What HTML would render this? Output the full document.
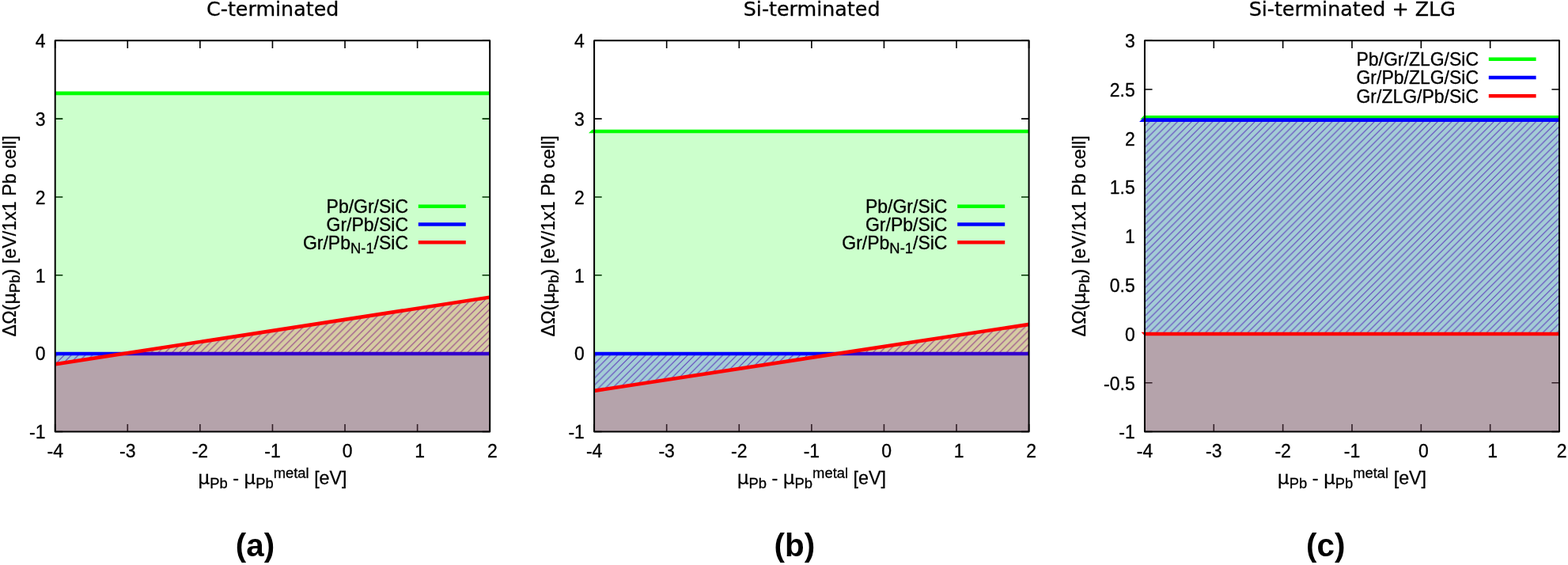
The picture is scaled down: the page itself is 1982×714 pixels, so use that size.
<!DOCTYPE html>
<html lang="en">
<head>
<meta charset="utf-8">
<title>Figure</title>
<style>
html,body{margin:0;padding:0;background:#fff;}
body{width:1982px;height:714px;overflow:hidden;}
svg{display:block;}
svg text{font-family:"Liberation Sans", Arial, Helvetica, sans-serif;font-size:23.0px;fill:#000;stroke:#000;stroke-width:0.3px;stroke-linejoin:round;}
</style>
</head>
<body>
<svg width="1982" height="714" viewBox="0 0 1982 714">
<defs>
<pattern id="hatch1" patternUnits="userSpaceOnUse" x="5.95" y="0" width="8.883" height="8.883"><rect x="0" y="0" width="8.883" height="8.883" fill="#ffffff"/><path d="M-8.883,8.883 L8.883,-8.883 M0,8.883 L8.883,0 M0,17.766 L17.766,0" stroke="#8400d0" stroke-width="1.1" stroke-opacity="0.85" fill="none"/></pattern>
<pattern id="hatch2" patternUnits="userSpaceOnUse" x="3.36" y="0" width="8.883" height="8.883"><rect x="0" y="0" width="8.883" height="8.883" fill="#ffffff"/><path d="M-8.883,8.883 L8.883,-8.883 M0,8.883 L8.883,0 M0,17.766 L17.766,0" stroke="#8400d0" stroke-width="1.1" stroke-opacity="0.85" fill="none"/></pattern>
<pattern id="hatch3" patternUnits="userSpaceOnUse" x="7.75" y="0" width="8.883" height="8.883"><rect x="0" y="0" width="8.883" height="8.883" fill="#ffffff"/><path d="M-8.883,8.883 L8.883,-8.883 M0,8.883 L8.883,0 M0,17.766 L17.766,0" stroke="#8400d0" stroke-width="1.1" stroke-opacity="0.85" fill="none"/></pattern>
</defs>
<rect x="0" y="0" width="1982" height="714" fill="#ffffff"/>
<clipPath id="clip1"><rect x="69.7" y="51.3" width="549.5" height="494.2"/></clipPath>
<path d="M69.7,545.5 v-9.6 M69.7,51.3 v9.6 M161.28,545.5 v-9.6 M161.28,51.3 v9.6 M252.87,545.5 v-9.6 M252.87,51.3 v9.6 M344.45,545.5 v-9.6 M344.45,51.3 v9.6 M436.03,545.5 v-9.6 M436.03,51.3 v9.6 M527.62,545.5 v-9.6 M527.62,51.3 v9.6 M619.2,545.5 v-9.6 M619.2,51.3 v9.6 M69.7,51.3 h9.6 M619.2,51.3 h-9.6 M69.7,150.14 h9.6 M619.2,150.14 h-9.6 M69.7,248.98 h9.6 M619.2,248.98 h-9.6 M69.7,347.82 h9.6 M619.2,347.82 h-9.6 M69.7,446.66 h9.6 M619.2,446.66 h-9.6 M69.7,545.5 h9.6 M619.2,545.5 h-9.6" stroke="#000" stroke-width="1.6" fill="none"/>
<g clip-path="url(#clip1)">
<polygon points="69.7,447.06 619.2,447.06 619.2,375.59 69.7,460.2" fill="url(#hatch1)"/>
<rect x="69.7" y="117.92" width="549.5" height="427.58" fill="#00ff00" fill-opacity="0.2"/>
<rect x="69.7" y="447.06" width="549.5" height="98.44" fill="#0000ff" fill-opacity="0.2"/>
</g>
<polygon points="69.7,120.22 69.7,115.62 619.2,115.62 619.2,120.22" fill="#00ff00"/>
<polygon points="69.7,449.36 69.7,444.76 619.2,444.76 619.2,449.36" fill="#0000ff"/>
<g clip-path="url(#clip1)">
<polygon points="69.7,460.2 619.2,375.59 619.2,545.5 69.7,545.5" fill="#ff0000" fill-opacity="0.2"/>
<line x1="59.7" y1="461.74" x2="629.2" y2="374.05" stroke="#ff0000" stroke-width="4.6"/>
</g>
<rect x="69.7" y="51.3" width="549.5" height="494.2" fill="none" stroke="#000" stroke-width="2.0" stroke-linejoin="round"/>
<text transform="translate(69.7,578) scale(1,1.04)" text-anchor="middle" style="font-size:23.0px">-4</text>
<text transform="translate(161.28,578) scale(1,1.04)" text-anchor="middle" style="font-size:23.0px">-3</text>
<text transform="translate(252.87,578) scale(1,1.04)" text-anchor="middle" style="font-size:23.0px">-2</text>
<text transform="translate(344.45,578) scale(1,1.04)" text-anchor="middle" style="font-size:23.0px">-1</text>
<text transform="translate(439.13,578) scale(1,1.04)" text-anchor="middle" style="font-size:23.0px">0</text>
<text transform="translate(530.72,578) scale(1,1.04)" text-anchor="middle" style="font-size:23.0px">1</text>
<text transform="translate(622.3,578) scale(1,1.04)" text-anchor="middle" style="font-size:23.0px">2</text>
<text transform="translate(57.45,60.1) scale(1,1.04)" text-anchor="end" style="font-size:23.0px">4</text>
<text transform="translate(57.45,158.94) scale(1,1.04)" text-anchor="end" style="font-size:23.0px">3</text>
<text transform="translate(57.45,257.78) scale(1,1.04)" text-anchor="end" style="font-size:23.0px">2</text>
<text transform="translate(57.45,356.62) scale(1,1.04)" text-anchor="end" style="font-size:23.0px">1</text>
<text transform="translate(57.45,455.46) scale(1,1.04)" text-anchor="end" style="font-size:23.0px">0</text>
<text transform="translate(57.45,554.3) scale(1,1.04)" text-anchor="end" style="font-size:23.0px">-1</text>
<text transform="translate(344.45,612.1) scale(1,1.02)" text-anchor="middle" style="font-size:23.3px"><tspan style="font-family:'DejaVu Sans','Liberation Sans',sans-serif">μ</tspan><tspan style="font-size:18.4px" dy="5.0">Pb</tspan><tspan dy="-5.0"> - </tspan><tspan style="font-family:'DejaVu Sans','Liberation Sans',sans-serif">μ</tspan><tspan style="font-size:18.4px" dy="5.0">Pb</tspan><tspan style="font-size:18.4px" dy="-13.0">metal</tspan><tspan dy="8.0"> [eV]</tspan></text>
<text transform="translate(19.6,298.4) rotate(-90) scale(1,1.02)" text-anchor="middle" style="font-size:23.3px">ΔΩ(<tspan style="font-family:'DejaVu Sans','Liberation Sans',sans-serif">μ</tspan><tspan style="font-size:18.4px" dy="5.0">Pb</tspan><tspan dy="-5.0">) [eV/1x1 Pb cell]</tspan></text>
<text x="344.71" y="20.3" text-anchor="middle" style="font-family:'DejaVu Sans', 'Liberation Sans', sans-serif;font-size:25.35px">C-terminated</text>
<text transform="translate(322.5,702.7) scale(1,1.0)" text-anchor="middle" style="font-size:40.4px;font-weight:bold;stroke:none">(a)</text>
<text transform="translate(516.05,269.2) scale(1,1.02)" text-anchor="end" style="font-size:23.0px">Pb/Gr/SiC</text>
<line x1="528.8" y1="260.8" x2="588.8" y2="260.8" stroke="#00ff00" stroke-width="4.5"/>
<text transform="translate(516.05,291.95) scale(1,1.02)" text-anchor="end" style="font-size:23.0px">Gr/Pb/SiC</text>
<line x1="528.8" y1="283.55" x2="588.8" y2="283.55" stroke="#0000ff" stroke-width="4.5"/>
<text transform="translate(516.05,314.7) scale(1,1.02)" text-anchor="end" style="font-size:23.0px">Gr/Pb<tspan style="font-size:18.4px" dy="5.0">N-1</tspan><tspan dy="-5.0">/SiC</tspan></text>
<line x1="528.8" y1="306.3" x2="588.8" y2="306.3" stroke="#ff0000" stroke-width="4.5"/>
<clipPath id="clip2"><rect x="751.1" y="51.3" width="549.5" height="494.2"/></clipPath>
<path d="M751.1,545.5 v-9.6 M751.1,51.3 v9.6 M842.68,545.5 v-9.6 M842.68,51.3 v9.6 M934.27,545.5 v-9.6 M934.27,51.3 v9.6 M1025.85,545.5 v-9.6 M1025.85,51.3 v9.6 M1117.43,545.5 v-9.6 M1117.43,51.3 v9.6 M1209.02,545.5 v-9.6 M1209.02,51.3 v9.6 M1300.6,545.5 v-9.6 M1300.6,51.3 v9.6 M751.1,51.3 h9.6 M1300.6,51.3 h-9.6 M751.1,150.14 h9.6 M1300.6,150.14 h-9.6 M751.1,248.98 h9.6 M1300.6,248.98 h-9.6 M751.1,347.82 h9.6 M1300.6,347.82 h-9.6 M751.1,446.66 h9.6 M1300.6,446.66 h-9.6 M751.1,545.5 h9.6 M1300.6,545.5 h-9.6" stroke="#000" stroke-width="1.6" fill="none"/>
<g clip-path="url(#clip2)">
<polygon points="751.1,447.06 1300.6,447.06 1300.6,409.89 751.1,493.91" fill="url(#hatch2)"/>
<rect x="751.1" y="165.95" width="549.5" height="379.55" fill="#00ff00" fill-opacity="0.2"/>
<rect x="751.1" y="447.06" width="549.5" height="98.44" fill="#0000ff" fill-opacity="0.2"/>
</g>
<polygon points="744,168.25 748.6,163.65 1300.6,163.65 1300.6,168.25" fill="#00ff00"/>
<polygon points="751.1,449.36 751.1,444.76 1300.6,444.76 1300.6,449.36" fill="#0000ff"/>
<g clip-path="url(#clip2)">
<polygon points="751.1,493.91 1300.6,409.89 1300.6,545.5 751.1,545.5" fill="#ff0000" fill-opacity="0.2"/>
<line x1="741.1" y1="495.43" x2="1310.6" y2="408.36" stroke="#ff0000" stroke-width="4.6"/>
</g>
<rect x="751.1" y="51.3" width="549.5" height="494.2" fill="none" stroke="#000" stroke-width="2.0" stroke-linejoin="round"/>
<text transform="translate(751.1,578) scale(1,1.04)" text-anchor="middle" style="font-size:23.0px">-4</text>
<text transform="translate(842.68,578) scale(1,1.04)" text-anchor="middle" style="font-size:23.0px">-3</text>
<text transform="translate(934.27,578) scale(1,1.04)" text-anchor="middle" style="font-size:23.0px">-2</text>
<text transform="translate(1025.85,578) scale(1,1.04)" text-anchor="middle" style="font-size:23.0px">-1</text>
<text transform="translate(1120.53,578) scale(1,1.04)" text-anchor="middle" style="font-size:23.0px">0</text>
<text transform="translate(1212.12,578) scale(1,1.04)" text-anchor="middle" style="font-size:23.0px">1</text>
<text transform="translate(1303.7,578) scale(1,1.04)" text-anchor="middle" style="font-size:23.0px">2</text>
<text transform="translate(738.85,60.1) scale(1,1.04)" text-anchor="end" style="font-size:23.0px">4</text>
<text transform="translate(738.85,158.94) scale(1,1.04)" text-anchor="end" style="font-size:23.0px">3</text>
<text transform="translate(738.85,257.78) scale(1,1.04)" text-anchor="end" style="font-size:23.0px">2</text>
<text transform="translate(738.85,356.62) scale(1,1.04)" text-anchor="end" style="font-size:23.0px">1</text>
<text transform="translate(738.85,455.46) scale(1,1.04)" text-anchor="end" style="font-size:23.0px">0</text>
<text transform="translate(738.85,554.3) scale(1,1.04)" text-anchor="end" style="font-size:23.0px">-1</text>
<text transform="translate(1025.85,612.1) scale(1,1.02)" text-anchor="middle" style="font-size:23.3px"><tspan style="font-family:'DejaVu Sans','Liberation Sans',sans-serif">μ</tspan><tspan style="font-size:18.4px" dy="5.0">Pb</tspan><tspan dy="-5.0"> - </tspan><tspan style="font-family:'DejaVu Sans','Liberation Sans',sans-serif">μ</tspan><tspan style="font-size:18.4px" dy="5.0">Pb</tspan><tspan style="font-size:18.4px" dy="-13.0">metal</tspan><tspan dy="8.0"> [eV]</tspan></text>
<text transform="translate(701,298.4) rotate(-90) scale(1,1.02)" text-anchor="middle" style="font-size:23.3px">ΔΩ(<tspan style="font-family:'DejaVu Sans','Liberation Sans',sans-serif">μ</tspan><tspan style="font-size:18.4px" dy="5.0">Pb</tspan><tspan dy="-5.0">) [eV/1x1 Pb cell]</tspan></text>
<text x="1026.11" y="20.3" text-anchor="middle" style="font-family:'DejaVu Sans', 'Liberation Sans', sans-serif;font-size:25.35px">Si-terminated</text>
<text transform="translate(1004.3,702.7) scale(1,1.0)" text-anchor="middle" style="font-size:40.4px;font-weight:bold;stroke:none">(b)</text>
<text transform="translate(1197.45,269.2) scale(1,1.02)" text-anchor="end" style="font-size:23.0px">Pb/Gr/SiC</text>
<line x1="1210.2" y1="260.8" x2="1270.2" y2="260.8" stroke="#00ff00" stroke-width="4.5"/>
<text transform="translate(1197.45,291.95) scale(1,1.02)" text-anchor="end" style="font-size:23.0px">Gr/Pb/SiC</text>
<line x1="1210.2" y1="283.55" x2="1270.2" y2="283.55" stroke="#0000ff" stroke-width="4.5"/>
<text transform="translate(1197.45,314.7) scale(1,1.02)" text-anchor="end" style="font-size:23.0px">Gr/Pb<tspan style="font-size:18.4px" dy="5.0">N-1</tspan><tspan dy="-5.0">/SiC</tspan></text>
<line x1="1210.2" y1="306.3" x2="1270.2" y2="306.3" stroke="#ff0000" stroke-width="4.5"/>
<clipPath id="clip3"><rect x="1446.95" y="51.3" width="524.05" height="494.2"/></clipPath>
<path d="M1446.95,545.5 v-9.6 M1446.95,51.3 v9.6 M1534.29,545.5 v-9.6 M1534.29,51.3 v9.6 M1621.63,545.5 v-9.6 M1621.63,51.3 v9.6 M1708.97,545.5 v-9.6 M1708.97,51.3 v9.6 M1796.32,545.5 v-9.6 M1796.32,51.3 v9.6 M1883.66,545.5 v-9.6 M1883.66,51.3 v9.6 M1971,545.5 v-9.6 M1971,51.3 v9.6 M1446.95,51.3 h9.6 M1971,51.3 h-9.6 M1446.95,113.07 h9.6 M1971,113.07 h-9.6 M1446.95,174.85 h9.6 M1971,174.85 h-9.6 M1446.95,236.62 h9.6 M1971,236.62 h-9.6 M1446.95,298.4 h9.6 M1971,298.4 h-9.6 M1446.95,360.18 h9.6 M1971,360.18 h-9.6 M1446.95,421.95 h9.6 M1971,421.95 h-9.6 M1446.95,483.73 h9.6 M1971,483.73 h-9.6 M1446.95,545.5 h9.6 M1971,545.5 h-9.6" stroke="#000" stroke-width="1.6" fill="none"/>
<g clip-path="url(#clip3)">
<polygon points="1446.95,151.62 1971,151.62 1971,421.95 1446.95,421.95" fill="url(#hatch3)"/>
<rect x="1446.95" y="148.41" width="524.05" height="397.09" fill="#00ff00" fill-opacity="0.2"/>
<rect x="1446.95" y="151.62" width="524.05" height="393.88" fill="#0000ff" fill-opacity="0.2"/>
</g>
<polygon points="1441.35,150.71 1445.95,146.11 1971,146.11 1971,150.71" fill="#00ff00"/>
<polygon points="1440.15,153.92 1444.75,149.32 1971,149.32 1971,153.92" fill="#0000ff"/>
<polygon points="1442.55,419.65 1446.95,419.65 1446.95,424.25" fill="#ff0000"/>
<g clip-path="url(#clip3)">
<polygon points="1446.95,421.95 1971,421.95 1971,545.5 1446.95,545.5" fill="#ff0000" fill-opacity="0.2"/>
<line x1="1436.95" y1="421.95" x2="1981" y2="421.95" stroke="#ff0000" stroke-width="4.6"/>
</g>
<rect x="1446.95" y="51.3" width="524.05" height="494.2" fill="none" stroke="#000" stroke-width="2.0" stroke-linejoin="round"/>
<text transform="translate(1446.95,578) scale(1,1.04)" text-anchor="middle" style="font-size:23.0px">-4</text>
<text transform="translate(1534.29,578) scale(1,1.04)" text-anchor="middle" style="font-size:23.0px">-3</text>
<text transform="translate(1621.63,578) scale(1,1.04)" text-anchor="middle" style="font-size:23.0px">-2</text>
<text transform="translate(1708.97,578) scale(1,1.04)" text-anchor="middle" style="font-size:23.0px">-1</text>
<text transform="translate(1799.42,578) scale(1,1.04)" text-anchor="middle" style="font-size:23.0px">0</text>
<text transform="translate(1886.76,578) scale(1,1.04)" text-anchor="middle" style="font-size:23.0px">1</text>
<text transform="translate(1974.1,578) scale(1,1.04)" text-anchor="middle" style="font-size:23.0px">2</text>
<text transform="translate(1434.7,60.1) scale(1,1.04)" text-anchor="end" style="font-size:23.0px">3</text>
<text transform="translate(1434.7,121.87) scale(1,1.04)" text-anchor="end" style="font-size:23.0px">2.5</text>
<text transform="translate(1434.7,183.65) scale(1,1.04)" text-anchor="end" style="font-size:23.0px">2</text>
<text transform="translate(1434.7,245.43) scale(1,1.04)" text-anchor="end" style="font-size:23.0px">1.5</text>
<text transform="translate(1434.7,307.2) scale(1,1.04)" text-anchor="end" style="font-size:23.0px">1</text>
<text transform="translate(1434.7,368.98) scale(1,1.04)" text-anchor="end" style="font-size:23.0px">0.5</text>
<text transform="translate(1434.7,430.75) scale(1,1.04)" text-anchor="end" style="font-size:23.0px">0</text>
<text transform="translate(1434.7,492.53) scale(1,1.04)" text-anchor="end" style="font-size:23.0px">-0.5</text>
<text transform="translate(1434.7,554.3) scale(1,1.04)" text-anchor="end" style="font-size:23.0px">-1</text>
<text transform="translate(1708.97,612.1) scale(1,1.02)" text-anchor="middle" style="font-size:23.3px"><tspan style="font-family:'DejaVu Sans','Liberation Sans',sans-serif">μ</tspan><tspan style="font-size:18.4px" dy="5.0">Pb</tspan><tspan dy="-5.0"> - </tspan><tspan style="font-family:'DejaVu Sans','Liberation Sans',sans-serif">μ</tspan><tspan style="font-size:18.4px" dy="5.0">Pb</tspan><tspan style="font-size:18.4px" dy="-13.0">metal</tspan><tspan dy="8.0"> [eV]</tspan></text>
<text transform="translate(1371.75,298.4) rotate(-90) scale(1,1.02)" text-anchor="middle" style="font-size:23.3px">ΔΩ(<tspan style="font-family:'DejaVu Sans','Liberation Sans',sans-serif">μ</tspan><tspan style="font-size:18.4px" dy="5.0">Pb</tspan><tspan dy="-5.0">) [eV/1x1 Pb cell]</tspan></text>
<text x="1709.23" y="20.3" text-anchor="middle" style="font-family:'DejaVu Sans', 'Liberation Sans', sans-serif;font-size:25.35px">Si-terminated + ZLG</text>
<text transform="translate(1675.7,702.7) scale(1,1.0)" text-anchor="middle" style="font-size:40.4px;font-weight:bold;stroke:none">(c)</text>
<text transform="translate(1869.05,83.1) scale(1,1.02)" text-anchor="end" style="font-size:23.0px">Pb/Gr/ZLG/SiC</text>
<line x1="1881.8" y1="74.7" x2="1941.6" y2="74.7" stroke="#00ff00" stroke-width="4.5"/>
<text transform="translate(1869.05,106.4) scale(1,1.02)" text-anchor="end" style="font-size:23.0px">Gr/Pb/ZLG/SiC</text>
<line x1="1881.8" y1="98" x2="1941.6" y2="98" stroke="#0000ff" stroke-width="4.5"/>
<text transform="translate(1869.05,129.7) scale(1,1.02)" text-anchor="end" style="font-size:23.0px">Gr/ZLG/Pb/SiC</text>
<line x1="1881.8" y1="121.3" x2="1941.6" y2="121.3" stroke="#ff0000" stroke-width="4.5"/>
</svg>
</body>
</html>
